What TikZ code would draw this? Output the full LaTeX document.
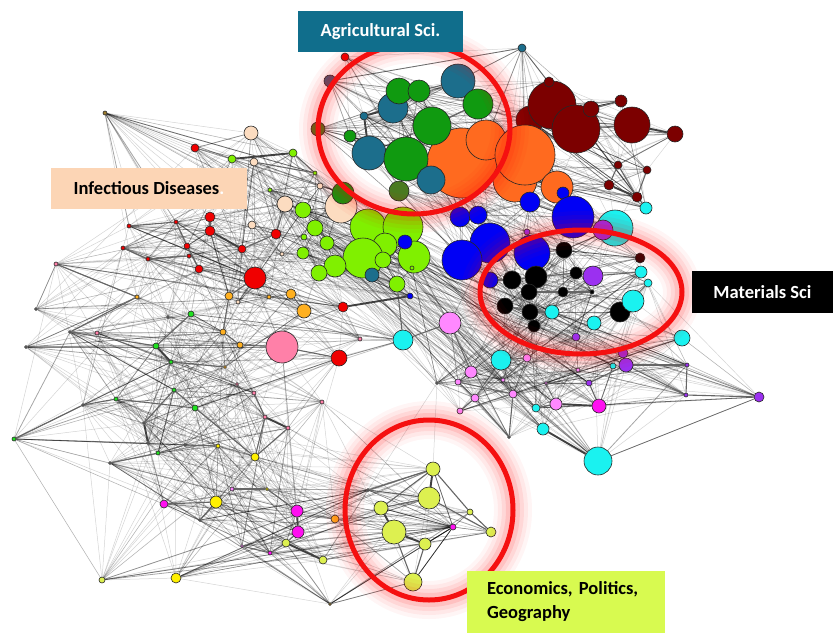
\documentclass[tikz,border=0pt]{standalone}
\usepackage{fontspec}
\setmainfont{Carlito}
\usetikzlibrary{positioning}
\pgfdeclarelayer{edges}
\pgfdeclarelayer{front}
\pgfsetlayers{edges,main,front}

\definecolor{agteal}{HTML}{1C6E8C}
\definecolor{leafgreen}{HTML}{109A10}
\definecolor{olivegreen}{HTML}{4A7A20}
\definecolor{slateblue}{HTML}{4A5A78}
\definecolor{burnt}{HTML}{FF6A1F}
\definecolor{maroon}{HTML}{7C0000}
\definecolor{pureblue}{HTML}{0000F5}
\definecolor{aqua}{HTML}{1AF2F0}
\definecolor{violetpurple}{HTML}{9B30F0}
\definecolor{lime}{HTML}{80F000}
\definecolor{peach}{HTML}{FCDCC0}
\definecolor{brightred}{HTML}{F00000}
\definecolor{amber}{HTML}{FFB020}
\definecolor{rosepink}{HTML}{FF80A8}
\definecolor{lilac}{HTML}{FF88FF}
\definecolor{magentapink}{HTML}{FF10F0}
\definecolor{lemon}{HTML}{FFF000}
\definecolor{chartreuse}{HTML}{DDF050}
\definecolor{brightgreen}{HTML}{20E020}
\definecolor{olivebrown}{HTML}{A08030}
\definecolor{darkred}{HTML}{3A0505}
\definecolor{ringred}{HTML}{F51010}
\definecolor{agbox}{HTML}{106E8C}
\definecolor{infbox}{HTML}{FCD5B5}
\definecolor{ecobox}{HTML}{D8FA50}

\tikzset{
  vertex/.style={circle, draw=black!85, line width=0.6pt, inner sep=0pt},
  haze/.style={draw=black, opacity=0.17, line width=0.5pt},
  midhaze/.style={draw=black, opacity=0.35, line width=0.8pt},
  tie/.style={draw=black!60, line width=1.1pt},
  strongtie/.style={draw=black!75, line width=1.9pt},
  fieldbox/.style={rectangle, inner sep=0pt, font=\bfseries\fontsize{18.5}{24}\selectfont},
}

% red highlight ring with a soft halo
\newcommand{\glowring}[4]{%
  \foreach \gw/\go in {38/0.04,30/0.05,22/0.07,14/0.1}
    \draw[red, line width=\gw pt, opacity=\go] (#1,#2) ellipse [x radius=#3, y radius=#4];
  \draw[ringred, line width=5pt] (#1,#2) ellipse [x radius=#3, y radius=#4];
}

\begin{document}
\frenchspacing
\begin{tikzpicture}[x=1pt, y=-1pt]
\useasboundingbox (0,0) rectangle (833,633);

% vertices: name/x/y/radius/colour
\foreach \nm/\nx/\ny/\nr/\nc [count=\i] in {
  mr1/530/120/14/maroon, mr2/552/105/24/maroon, mr3/576/129/24/maroon, mr4/549/82/5/maroon,
  mr5/591/109/8/maroon, mr6/621/101/6/maroon, mr7/632/125/18/maroon, mr8/675/134/8/maroon,
  mr9/618/165/4/maroon, mr10/647/170/4/maroon, mr11/609/185/5/maroon, mr12/637/197/5/maroon,
  cy1/646/208/6/aqua,
  or1/462/163/35/burnt, or5/515/180/22/burnt, or3/486/140/20/burnt, or2/525/155/30/burnt,
  or4/557/187/16/burnt, bl0/563/193/6/pureblue,
  ag12/522/48/4/agteal, ag11/345/57/4/brightred, ag10/330/81/6/slateblue, ag9/318/129/7/olivegreen,
  ag1/458/81/17/agteal, ag4/393/108/15/agteal, ag2/399/91/13/leafgreen, ag3/419/91/11/leafgreen,
  ag5/478/104/15/leafgreen, ag6/432/126/19/leafgreen, ag7/364/116/4/agteal, ag8/350/136/6/leafgreen,
  ag13/369/153/17/agteal, ag14/406/159/22/leafgreen, ag15/431/180/14/agteal, ag17/399/191/10/olivegreen,
  bl1/460/217/10/pureblue, bl2/478/215/9/pureblue, bl3/530/202/10/pureblue, bl4/573/217/21/pureblue,
  cy2/615/228/18/aqua, pu1/603/230/10/violetpurple, bl5/490/243/20/pureblue, bl6/462/260/20/pureblue,
  bl7/532/253/18/pureblue, bl8/490/280/8/pureblue, pu2/527/232/3/violetpurple,
  bk12/640/258/5/darkred, bk1/564/250/8/black, bk2/536/277/11/black, bk3/512/280/9/black,
  bk4/576/273/6/black, bk5/529/292/8/black, bk6/563/292/5/black, bk7/592/292/2/black,
  bk8/505/306/8/black, bk9/530/312/8/black, bk10/534/326/6/black, bk11/620/312/10/black,
  pu3/593/276/10/violetpurple, cy3/641/272/6/aqua, cy4/648/283/4/aqua, cy5/633/301/11/aqua,
  cy6/552/312/7/aqua, cy7/594/323/7/aqua, pu4/576/337/4/violetpurple, cy8/682/338/8/aqua,
  li1/450/323/11/lilac,
  cy9/501/360/10/aqua, li2/527/358/4/lilac, li3/471/372/6/lilac, li4/458/382/3/lilac,
  li5/503/380/2/lilac, li6/475/398/4/lilac, li7/513/394/4/lilac, li8/460/411/3/lilac,
  hb1/437/383/1.5/gray, li9/578/370/2/lilac, li10/546/383/1.5/lilac, cy10/536/408/4/aqua,
  li11/556/404/6/lilac, mg1/599/406/7/magentapink, pu5/589/383/3/violetpurple, cy11/613/366/3/aqua,
  pu7/623/353/5/violetpurple, pu6/626/365/7/violetpurple, cy12/543/429/6/aqua, cy13/598/461/14/aqua,
  pu8/687/365/2/violetpurple, pu9/686/395/2/violetpurple, pu10/759/397/5/violetpurple, hb2/509/437/1.5/gray,
  lm1/368/227/18/lime, lm2/403/227/20/lime, lm13/385/245/12/lime, lm3/363/258/20/lime,
  lm4/414/257/16/lime, lm5/335/266/11/lime, lm6/319/273/8/lime, lm7/303/210/8/lime,
  lm8/315/228/8/lime, lm9/327/243/7/lime, lm10/303/253/6/lime, lm11/304/237/3/lime,
  lm12/383/260/8/lime, lm14/397/284/8/lime, lm15/412/268/2/lime, lm16/270/190/2/lime,
  tl1/372/275/7/agteal, bl9/405/242/7/pureblue, bl10/410/296/3/pureblue,
  pc1/341/207/16/peach, ag16/343/193/11/leafgreen, pc2/285/204/8/peach, pc3/252/225/4/peach,
  pc4/320/186/3/peach, pc5/282/254/2/peach, pc6/238/302/2/peach, pc7/251/133/7/peach,
  pc8/254/162/4/peach, lg1/232/159/4/lime, lg2/293/153/4/lime, lg3/315/173/2/lime,
  ob1/105/113/2/olivebrown, rd6/195/148/4/brightred, rd1/276/234/5/brightred, rd2/242/249/4/brightred,
  rd3/255/278/11/brightred, rd7/210/217/5/brightred, rd8/210/231/5/brightred, rd9/129/226/2/brightred,
  rd10/176/222/2/brightred, rd11/123/248/2/brightred, rd12/148/259/2/brightred, rd13/187/246/3/brightred,
  rd14/189/256/2/brightred, rd15/199/269/4/brightred, pk5/56/264/2/rosepink, am4/229/296/4/amber,
  am2/291/294/5/amber, am3/269/297/2/amber, am1/304/311/7/amber, rd4/343/307/5/brightred,
  cy14/403/340/10/aqua, pk2/360/339/2/rosepink, am8/137/297/2/amber, tn1/36/309/1.5/gray,
  tn4/168/317/1.5/gray, gn1/191/314/3/brightgreen, am5/223/332/3/amber, am6/240/345/3/amber,
  am7/225/367/1.5/amber, pk1/282/347/16/rosepink, rd5/339/358/8/brightred, pk6/97/333/2/rosepink,
  tn2/70/332/1.5/gray, tn3/26/347/1.5/gray, gn2/156/346/3/brightgreen, gn3/171/362/2/brightgreen,
  pk3/254/393/2/rosepink, pk4/237/384/1.5/rosepink,
  gn4/14/439/2/brightgreen, tn5/83/405/1.5/gray, gn5/116/399/2/brightgreen, gn6/174/390/2/brightgreen,
  gn7/195/408/3/brightgreen, tn7/144/423/1.5/gray, tn8/148/443/1.5/gray, gn8/158/453/2/brightgreen,
  tn9/185/445/1.5/gray, ye1/218/446/2/lemon, ye2/255/457/4/lemon, pk7/265/417/2/rosepink,
  pk8/288/428/2/rosepink, pk9/322/402/2/rosepink, tn6/110/463/1.5/gray, mg2/164/504/4/magentapink,
  ye3/216/502/6/lemon, li13/232/489/2/lilac, ye4/267/489/1.5/lemon, tn10/200/520/1.5/gray,
  mg3/297/511/6/magentapink, mg4/298/532/6/magentapink, cg1/286/543/4/chartreuse, li14/242/546/1.5/lilac,
  mg5/270/553/2/magentapink, cg2/323/560/4/chartreuse, am14/335/519/4/amber, cg3/102/580/3/chartreuse,
  ye5/176/578/5/lemon, tn11/330/604/1.5/olivebrown,
  tn12/368/490/1.5/gray, ec1/433/469/7/chartreuse, ec2/429/498/11/chartreuse, ec3/381/508/7/chartreuse,
  ec4/394/532/12/chartreuse, ec5/425/544/6/chartreuse, ec6/470/512/3/chartreuse, ec7/491/532/5/chartreuse,
  ec8/413/582/9/chartreuse, mg6/453/527/3/magentapink}{
  \node[vertex, minimum size=2*\nr, fill=\nc, alias=v\i] (\nm) at (\nx,\ny) {};
  \xdef\vcount{\i}
}

\begin{pgfonlayer}{edges}
  \fill[white] (0,0) rectangle (833,633);
  % faint mesh between vertices listed close together
  \pgfmathsetseed{7}
  \foreach \i in {1,...,\vcount}{
    \foreach \k in {1,...,10}{
      \pgfmathtruncatemacro{\j}{min(\vcount,max(1,\i+random(0,60)-30))}
      \ifnum\j=\i\else\draw[haze] (v\i) -- (v\j);\fi
    }
    \foreach \k in {1,2}{
      \pgfmathtruncatemacro{\j}{min(\vcount,max(1,\i+random(0,24)-12))}
      \ifnum\j=\i\else\draw[midhaze] (v\i) -- (v\j);\fi
    }
  }
  \foreach \u/\v in {cg3/ye5, ye5/tn11, cg3/tn6, tn6/tn5, pk5/tn1, pu10/cy8, tn11/ec8,
    ye5/cg2, ec1/hb1, tn12/hb1, ob1/pc7, ob1/lg1, gn4/tn6, pu10/cy13}
    \draw[haze] (\u) -- (\v);
  \foreach \u/\v in {ag4/ag6, ag6/ag5, ag13/ag14, ag14/ag15, ag8/ag13, ag3/ag1, ag2/ag3,
    ag1/ag5, ag6/ag14, mr9/mr12, mr3/mr7, mr10/mr12, mr5/mr6, mr11/mr9, pc8/lg3, lg2/lg3,
    rd9/rd10, rd10/rd13, rd11/rd12, rd12/rd14, rd13/rd15, rd7/rd8, rd1/rd2, pc2/rd1,
    am8/tn2, pk5/am8, gn1/gn2, gn3/am7, am4/am5, am5/am6, am6/pk1, am1/am2, rd3/am4,
    pk1/rd5, ec1/ec6, ec6/ec7, ec2/ec3, ec4/ec8, ec5/ec8, ec3/ec1, ec1/tn12, ec2/ec7,
    tn12/ec2, mg4/cg1, mg5/cg1, ye3/tn10, li13/ye4, ye4/mg3, li14/mg5, tn5/gn4, tn5/gn5,
    gn5/gn7, gn6/gn7, gn7/ye2, gn8/tn9, ye1/tn9, ye2/pk8, pk3/pk7, tn6/gn8, mg2/ye3,
    li3/li4, li4/li6, li6/li8, li4/li7, li5/li7, li7/hb2, li2/li5, li6/hb2, mg1/pu5,
    pu5/pu6, pu6/pu8, pu8/pu9, pu9/pu10, pu6/pu9, cy10/li11, li3/li1, bk3/bk2, bk2/bk4,
    bk4/pu3, bk5/bk6, bk8/bk9, bk9/cy6, bk2/bk5, bk11/cy5, bk6/bk7, bk5/bk8, bl5/bl6,
    bl7/bk1, bl8/bk3, pu3/cy3, cy9/li2, cy14/li1, tl1/lm14, cy14/lm14, gn2/tn2, tn7/gn6,
    ye2/pk7}
    \draw[tie] (\u) -- (\v);
  \foreach \u/\v in {ag7/ag4, ag7/ag13, mr7/mr8, mr11/mr12, ec1/ec2, ec4/ec5, mg3/mg4,
    tn7/tn8, pk7/pk8, cy12/cy13, li11/mg1, lg1/lg2, cg1/cg2, gn2/gn3, rd8/rd2, ec3/ec4,
    rd4/bl10}
    \draw[strongtie] (\u) -- (\v);
\end{pgfonlayer}

\begin{pgfonlayer}{front}
  \glowring{414}{129}{96}{85}
  \glowring{581}{292}{101}{62}
  \glowring{429}{510}{84}{90}
  \node[fieldbox, fill=agbox, text=white, minimum width=165pt, minimum height=41pt] (agri) at (380.5,31.5) {Agricultural Sci.};
  \node[fieldbox, fill=infbox, minimum width=196pt, minimum height=41pt] (infect) at (149,188.5) {Infectious Diseases\textcolor{white}{.}};
  \node[fieldbox, fill=black, text=white, minimum width=141pt, minimum height=42pt] (mater) at (762.5,292) {Materials Sci};
  \node[fieldbox, fill=ecobox, minimum width=198pt, minimum height=62pt, text width=158pt, align=left] (econ) at (566,602) {Economics, Politics,\\Geography};
\end{pgfonlayer}
\end{tikzpicture}
\end{document}
